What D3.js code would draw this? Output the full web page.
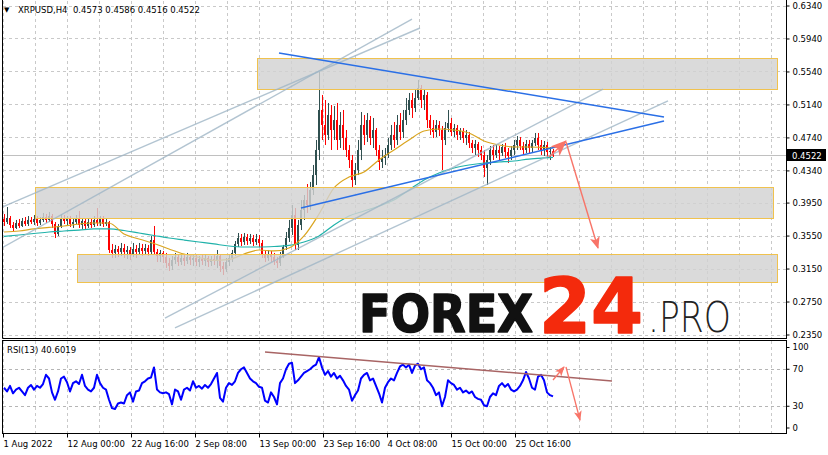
<!DOCTYPE html>
<html><head><meta charset="utf-8">
<script src="https://cdnjs.cloudflare.com/ajax/libs/d3/7.8.5/d3.min.js"></script>
<style>
body{margin:0;background:#fff}
svg{display:block}
text{font-family:"DejaVu Sans",Verdana,sans-serif}
</style></head>
<body><svg id="c" width="828" height="455"></svg>
<script>
// ---------------- DATA ----------------
const symbolTitle = "XRPUSD,H4";
const headerOHLC = [0.4573, 0.4586, 0.4516, 0.4522];
const lastPrice = 0.4522;
const rsiPeriod = 13;
const rsiLast = 40.6019;
const axisStart = "2022-08-01T08:00:00Z";
const axisEnd = "2022-12-10T00:00:00Z";
const candleStart = "2022-08-01T12:00:00Z";
const candleHours = 12;

const open = [.3751,.3714,.3763,.3678,.3642,.3702,.3666,.3727,.3690,.3739,
.3714,.3751,.3702,.3739,.3775,.3739,.3787,.3690,.3569,.3666,
.3763,.3727,.3751,.3690,.3714,.3751,.3678,.3727,.3666,.3714,
.3678,.3739,.3702,.3751,.3690,.3714,.3375,.3339,.3387,.3351,
.3399,.3351,.3375,.3326,.3387,.3351,.3399,.3363,.3399,.3351,
.3496,.3351,.3302,.3339,.3290,.3217,.3181,.3254,.3290,.3229,
.3278,.3242,.3290,.3254,.3278,.3229,.3266,.3242,.3278,.3229,
.3266,.3242,.3302,.3181,.3144,.3229,.3278,.3339,.3448,.3520,
.3472,.3533,.3484,.3520,.3472,.3508,.3460,.3314,.3278,.3326,
.3290,.3242,.3217,.3302,.3411,.3520,.3642,.3799,.3436,.3678,
.3860,.3981,.3921,.4103,.4284,.4588,.5073,.4891,.4770,.5012,
.4830,.4951,.4709,.4891,.4733,.4588,.4466,.4224,.4345,.4588,
.4891,.4770,.4951,.4733,.4830,.4588,.4442,.4491,.4527,.4648,
.4770,.4709,.4891,.4806,.4951,.5073,.5194,.5097,.5218,.5339,
.5194,.5255,.4951,.4854,.4806,.4891,.4830,.4709,.4854,.4915,
.4806,.4854,.4770,.4818,.4733,.4770,.4673,.4612,.4660,.4588,
.4527,.4369,.4466,.4588,.4527,.4588,.4551,.4624,.4563,.4515,
.4588,.4648,.4709,.4636,.4588,.4660,.4612,.4673,.4733,.4648,
.4588,.4648,.4563,.4573];
const high = [.3811,.3896,.3787,.3714,.3739,.3751,.3763,.3775,.3787,.3775,
.3799,.3787,.3775,.3824,.3811,.3836,.3811,.3714,.3690,.3811,
.3799,.3787,.3787,.3751,.3799,.3848,.3763,.3763,.3751,.3763,
.3787,.3884,.3787,.3787,.3763,.3727,.3448,.3436,.3423,.3460,
.3448,.3423,.3411,.3460,.3436,.3460,.3448,.3448,.3436,.3545,
.3666,.3387,.3375,.3363,.3339,.3278,.3302,.3339,.3326,.3326,
.3314,.3339,.3326,.3314,.3314,.3302,.3314,.3314,.3302,.3302,
.3314,.3375,.3326,.3229,.3278,.3314,.3375,.3484,.3581,.3569,
.3581,.3569,.3569,.3557,.3569,.3557,.3496,.3363,.3375,.3363,
.3339,.3290,.3351,.3436,.3593,.3739,.3921,.3884,.3739,.3981,
.4042,.4175,.4200,.4406,.4709,.5534,.5255,.5194,.5158,.5133,
.5121,.5158,.5048,.5073,.4830,.4648,.4527,.4430,.4709,.5048,
.5012,.5036,.5000,.4976,.4854,.4648,.4588,.4612,.4733,.4891,
.4927,.5012,.5036,.5073,.5218,.5279,.5279,.5315,.5437,.5376,
.5315,.5291,.5012,.4951,.4951,.4939,.4879,.4927,.5073,.4976,
.4903,.4891,.4854,.4854,.4830,.4806,.4709,.4709,.4685,.4636,
.4588,.4527,.4636,.4648,.4648,.4636,.4660,.4673,.4612,.4636,
.4709,.4757,.4745,.4685,.4709,.4709,.4709,.4794,.4794,.4709,
.4697,.4685,.4624,.4600];
const low = [.3666,.3690,.3642,.3605,.3630,.3642,.3654,.3666,.3666,.3690,
.3678,.3666,.3678,.3714,.3702,.3714,.3642,.3520,.3545,.3642,
.3690,.3678,.3654,.3642,.3690,.3642,.3630,.3630,.3642,.3642,
.3654,.3666,.3666,.3654,.3666,.3339,.3278,.3278,.3290,.3302,
.3278,.3266,.3254,.3290,.3278,.3314,.3302,.3326,.3302,.3314,
.3314,.3229,.3229,.3217,.3157,.3120,.3132,.3205,.3181,.3193,
.3181,.3205,.3193,.3181,.3181,.3169,.3193,.3181,.3169,.3181,
.3193,.3157,.3108,.3072,.3108,.3181,.3229,.3302,.3411,.3423,
.3436,.3436,.3448,.3423,.3436,.3411,.3278,.3229,.3242,.3229,
.3193,.3157,.3181,.3278,.3375,.3472,.3557,.3375,.3375,.3617,
.3739,.3824,.3860,.4042,.4163,.4466,.4709,.4648,.4709,.4588,
.4709,.4588,.4612,.4588,.4503,.4369,.4139,.4163,.4284,.4466,
.4648,.4685,.4648,.4612,.4515,.4345,.4369,.4406,.4491,.4588,
.4612,.4648,.4709,.4733,.4891,.5012,.4976,.5048,.5194,.5097,
.5073,.4854,.4770,.4733,.4745,.4757,.4345,.4648,.4806,.4757,
.4745,.4709,.4709,.4673,.4648,.4612,.4551,.4527,.4503,.4466,
.4260,.4163,.4406,.4466,.4491,.4466,.4515,.4491,.4430,.4466,
.4527,.4588,.4588,.4527,.4551,.4551,.4563,.4636,.4588,.4527,
.4515,.4503,.4466,.4503];
const close = [.3714,.3763,.3678,.3642,.3702,.3666,.3727,.3690,.3739,.3714,
.3751,.3702,.3739,.3775,.3739,.3787,.3690,.3569,.3666,.3763,
.3727,.3751,.3690,.3714,.3751,.3678,.3727,.3666,.3714,.3678,
.3739,.3702,.3751,.3690,.3714,.3375,.3339,.3387,.3351,.3399,
.3351,.3375,.3326,.3387,.3351,.3399,.3363,.3399,.3351,.3496,
.3351,.3302,.3339,.3290,.3217,.3181,.3254,.3290,.3229,.3278,
.3242,.3290,.3254,.3278,.3229,.3266,.3242,.3278,.3229,.3266,
.3242,.3302,.3181,.3144,.3229,.3278,.3339,.3448,.3520,.3472,
.3533,.3484,.3520,.3472,.3508,.3460,.3314,.3278,.3326,.3290,
.3242,.3217,.3302,.3411,.3520,.3642,.3799,.3436,.3678,.3860,
.3981,.3921,.4103,.4284,.4588,.5073,.4891,.4770,.5012,.4830,
.4951,.4709,.4891,.4733,.4588,.4466,.4224,.4345,.4588,.4891,
.4770,.4951,.4733,.4830,.4588,.4442,.4491,.4527,.4648,.4770,
.4709,.4891,.4806,.4951,.5073,.5194,.5097,.5218,.5339,.5194,
.5255,.4951,.4854,.4806,.4891,.4830,.4709,.4854,.4915,.4806,
.4854,.4770,.4818,.4733,.4770,.4673,.4612,.4660,.4588,.4527,
.4369,.4466,.4588,.4527,.4588,.4551,.4624,.4563,.4515,.4588,
.4648,.4709,.4636,.4588,.4660,.4612,.4673,.4733,.4648,.4588,
.4648,.4563,.4576,.4522];

const rsiValues = [50,46,52,44,48,50,46,42,50,53,
48,52,50,54,64,60,45,37,46,60,
62,56,46,55,57,54,64,52,48,46,
50,64,55,50,48,37,28,27,33,34,
33,42,45,35,46,47,55,57,60,61,
72,48,45,44,45,43,32,48,46,37,
48,50,47,57,50,52,49,53,50,54,
60,66,39,35,50,55,53,57,66,70,
72,66,60,57,55,51,50,36,34,45,
40,32,55,60,70,76,77,55,58,62,
66,68,70,73,75,83,72,64,68,62,
66,60,63,58,52,48,36,42,47,60,
64,66,58,60,52,44,34,50,56,60,
58,66,73,75,72,75,66,74,76,70,
72,58,55,50,42,45,30,40,58,55,
53,48,50,45,47,44,46,40,38,37,
31,30,40,44,42,52,55,51,54,48,
46,48,52,58,67,60,50,48,62,64,
58,45,42,40.6];

const maIndex = [0,5,10,15,20,25,30,35,40,45,50,55,60,65,70,75,80,85,90,95,100,105,110,115,120,125,130,135,140,145,150,155,160,165,170,175,180,183];
const maFast = [.3593,.3605,.3630,.3648,.3666,.3690,.3702,.3702,.3569,.3508,
.3454,.3387,.3326,.3284,.3248,.3260,.3326,.3375,.3363,.3399,
.3545,.3811,.4127,.4260,.4321,.4466,.4588,.4709,.4818,.4842,
.4830,.4794,.4697,.4648,.4624,.4624,.4618,.4612];
const maSlow = [.3539,.3557,.3575,.3593,.3605,.3617,.3630,.3630,.3611,.3581,
.3551,.3520,.3496,.3472,.3448,.3423,.3411,.3411,.3417,.3430,
.3472,.3545,.3678,.3787,.3848,.3908,.3981,.4103,.4224,.4309,
.4369,.4406,.4430,.4442,.4454,.4478,.4491,.4497];

const priceTicks = [0.6340,0.5940,0.5540,0.5140,0.4740,0.4340,0.3950,0.3550,0.3150,0.2750,0.2350];
const rsiTicks = [100,70,30,0];
const rsiLevels = [70,30];
const timeTicks = ["2022-08-01T08:00:00Z","2022-08-12T00:00:00Z","2022-08-22T16:00:00Z","2022-09-02T08:00:00Z","2022-09-13T00:00:00Z","2022-09-23T16:00:00Z","2022-10-04T08:00:00Z","2022-10-15T00:00:00Z","2022-10-25T16:00:00Z"];
const timeTickLabels = ["1 Aug 2022","12 Aug 00:00","22 Aug 16:00","2 Sep 08:00","13 Sep 00:00","23 Sep 16:00","4 Oct 08:00","15 Oct 00:00","25 Oct 16:00"];

// drawn objects (time, price)
const zoneStart = ["2022-09-12T16:00:00Z","2022-08-06T16:00:00Z","2022-08-13T16:00:00Z"];
const zoneEnd = ["2022-12-08T08:00:00Z","2022-12-07T16:00:00Z","2022-12-08T08:00:00Z"];
const zoneTop = [0.5703,0.4139,0.3326];
const zoneBottom = [0.5327,0.3763,0.2987];

const blueLines = [
  [["2022-09-16T08:00:00Z",0.5764],["2022-11-19T12:00:00Z",0.4988]],
  [["2022-09-20T00:00:00Z",0.3884],["2022-11-19T12:00:00Z",0.4939]]
];
const channelLines = [
  [["2022-07-31T20:00:00Z",0.3387],["2022-10-08T12:00:00Z",0.6176]],
  [["2022-07-31T20:00:00Z",0.3884],["2022-10-09T20:00:00Z",0.6067]],
  [["2022-08-28T08:00:00Z",0.2550],["2022-11-09T08:00:00Z",0.5327]],
  [["2022-08-30T00:00:00Z",0.2429],["2022-11-20T04:00:00Z",0.5182]]
];
const priceArrows = [
  [["2022-10-31T08:00:00Z",0.4503],["2022-11-03T04:00:00Z",0.4697]],
  [["2022-11-03T04:00:00Z",0.4685],["2022-11-08T12:00:00Z",0.3399]]
];
const rsiTrend = [["2022-09-14T00:00:00Z",88.6],["2022-11-10T20:00:00Z",57.3]];
const rsiArrows = [
  [["2022-11-01T00:00:00Z",58.4],["2022-11-02T20:00:00Z",72.4]],
  [["2022-11-03T04:00:00Z",72.4],["2022-11-05T12:00:00Z",15.1]]
];

// ---------------- DRAW ----------------
const svg = d3.select("#c");
const T = s => new Date(s);
const x = d3.scaleUtc().domain([T(axisStart), T(axisEnd)]).range([3, 787]);
const y = d3.scaleLinear().domain([0.2350, 0.6340]).range([334.5, 5.5]);
const yr = d3.scaleLinear().domain([0, 100]).range([434, 341.5]);

const candleTime = i => new Date(T(candleStart).getTime() + i * candleHours * 3600e3);
const candles = close.map((c, i) => ({t: candleTime(i), o: open[i], h: high[i], l: low[i], c}));

const gridColor = "#c9c9c9";
const bull = "#2f4f4f", bear = "#ff0000";
const arrowColor = "#f87468";

const defs = svg.append("defs");
defs.append("clipPath").attr("id", "clipMain").append("rect").attr("x", 3).attr("y", 1).attr("width", 784).attr("height", 337);
defs.append("clipPath").attr("id", "clipRsi").append("rect").attr("x", 3).attr("y", 341).attr("width", 784).attr("height", 93);
function marker(id, w, h) {
  defs.append("marker").attr("id", id).attr("viewBox", `0 0 ${w} ${h}`)
    .attr("refX", w - 1).attr("refY", h / 2).attr("markerWidth", w).attr("markerHeight", h)
    .attr("markerUnits", "userSpaceOnUse").attr("orient", "auto")
    .append("path").attr("d", `M0,0 L${w},${h/2} L0,${h} L${w*0.25},${h/2} Z`).attr("fill", arrowColor);
}
marker("ahBig", 16, 13);
marker("ahMid", 12, 10);
marker("ahSmall", 10, 8);

// grid
const gridTimes = d3.range(0, 25).map(k => new Date(T(axisStart).getTime() + k * 128 * 3600e3));
const main = svg.append("g").attr("clip-path", "url(#clipMain)");
main.selectAll("line.vg").data(gridTimes).join("line")
  .attr("x1", d => Math.round(x(d)) + 0.5).attr("x2", d => Math.round(x(d)) + 0.5)
  .attr("y1", 1).attr("y2", 338).attr("stroke", gridColor).attr("stroke-dasharray", "3,3");
main.selectAll("line.hg").data(priceTicks).join("line")
  .attr("x1", 3).attr("x2", 787).attr("y1", d => Math.round(y(d)) + 0.5).attr("y2", d => Math.round(y(d)) + 0.5)
  .attr("stroke", gridColor).attr("stroke-dasharray", "3,3");

// current price line
main.append("line").attr("x1", 3).attr("x2", 787)
  .attr("y1", Math.round(y(lastPrice)) + 0.5).attr("y2", Math.round(y(lastPrice)) + 0.5)
  .attr("stroke", "#c0c0c0");

// candles
const cg = main.append("g");
candles.forEach(d => {
  const cx = Math.round(x(d.t));
  const col = d.c >= d.o ? bull : bear;
  cg.append("rect").attr("x", cx).attr("width", 1)
    .attr("y", y(d.h)).attr("height", Math.max(1, y(d.l) - y(d.h))).attr("fill", col);
  const top = y(Math.max(d.o, d.c)), bot = y(Math.min(d.o, d.c));
  cg.append("rect").attr("x", cx - 1).attr("width", 2)
    .attr("y", top).attr("height", Math.max(1, bot - top)).attr("fill", col);
});

// moving averages
const maLine = d3.line().x(d => x(candleTime(d[0]))).y(d => y(d[1])).curve(d3.curveMonotoneX);
main.append("path").attr("d", maLine(maIndex.map((k, i) => [k, maSlow[i]])))
  .attr("fill", "none").attr("stroke", "#20b2aa").attr("stroke-width", 1.2);
main.append("path").attr("d", maLine(maIndex.map((k, i) => [k, maFast[i]])))
  .attr("fill", "none").attr("stroke", "#daa520").attr("stroke-width", 1.2);

// zones
zoneTop.forEach((zt, i) => {
  const x0 = Math.round(x(T(zoneStart[i]))) + 0.5, x1 = Math.round(x(T(zoneEnd[i]))) + 0.5;
  const y0 = Math.round(y(zt)) + 0.5, y1 = Math.round(y(zoneBottom[i])) + 0.5;
  main.append("rect").attr("x", x0).attr("y", y0).attr("width", x1 - x0).attr("height", y1 - y0)
    .attr("fill", "#d2d2d2").attr("fill-opacity", 0.82)
    .attr("stroke", "#f0c24e").attr("stroke-width", 1);
});

// channel lines
const pl = d3.line().x(d => x(T(d[0]))).y(d => y(d[1]));
channelLines.forEach(l => main.append("path").attr("d", pl(l))
  .attr("stroke", "#9fb5c6").attr("stroke-opacity", 0.8).attr("stroke-width", 1.4).attr("fill", "none"));
blueLines.forEach(l => main.append("path").attr("d", pl(l))
  .attr("stroke", "#2a6fe6").attr("stroke-width", 1.5).attr("fill", "none"));
priceArrows.forEach((l, i) => main.append("path").attr("d", pl(l))
  .attr("stroke", arrowColor).attr("stroke-width", 1.4).attr("fill", "none")
  .attr("marker-end", i === 0 ? "url(#ahBig)" : "url(#ahMid)"));

// main frame
svg.append("line").attr("x1", 2.5).attr("x2", 2.5).attr("y1", 0).attr("y2", 338.5).attr("stroke", "#000");
svg.append("line").attr("x1", 2.5).attr("x2", 787).attr("y1", 338.5).attr("y2", 338.5).attr("stroke", "#000");
svg.append("line").attr("x1", 786.5).attr("x2", 786.5).attr("y1", 0).attr("y2", 338.5).attr("stroke", "#000");

// right price axis
const ay = svg.append("g").attr("transform", "translate(786.5,0)")
  .call(d3.axisRight(y).tickValues(priceTicks).tickSize(3).tickFormat(d3.format(".4f")));
ay.select(".domain").remove();
ay.selectAll("text").attr("font-size", "8.5px").attr("font-family", "DejaVu Sans").attr("x", 6).attr("fill", "#000");
ay.selectAll("line").attr("stroke", "#000");

// current price label
const ly = Math.round(y(lastPrice));
svg.append("rect").attr("x", 787).attr("y", ly - 6).attr("width", 39).attr("height", 12).attr("fill", "#000");
svg.append("text").attr("x", 792).attr("y", ly + 3.5).attr("fill", "#fff").attr("font-size", "8.5px").text(d3.format(".4f")(lastPrice));

// title
svg.append("text").attr("x", 4).attr("y", 12).attr("font-size", "7px").attr("fill", "#000").text("▼");
svg.append("text").attr("x", 18).attr("y", 12.5).attr("font-size", "8.5px").attr("fill", "#000")
  .attr("xml:space", "preserve")
  .text(symbolTitle + "  " + headerOHLC.map(d3.format(".4f")).join(" "));

// ---------------- RSI PANEL ----------------
const rsi = svg.append("g").attr("clip-path", "url(#clipRsi)");
rsi.selectAll("line.vg").data(gridTimes).join("line")
  .attr("x1", d => Math.round(x(d)) + 0.5).attr("x2", d => Math.round(x(d)) + 0.5)
  .attr("y1", 341).attr("y2", 434).attr("stroke", gridColor).attr("stroke-dasharray", "3,3");
rsi.selectAll("line.lv").data(rsiLevels).join("line")
  .attr("x1", 3).attr("x2", 787).attr("y1", d => Math.round(yr(d)) + 0.5).attr("y2", d => Math.round(yr(d)) + 0.5)
  .attr("stroke", "#b5b5b5").attr("stroke-dasharray", "3,3");
rsi.append("path").attr("d", d3.line().x((d, i) => x(candleTime(i))).y(d => yr(d))(rsiValues))
  .attr("fill", "none").attr("stroke", "#0000ff").attr("stroke-width", 2).attr("stroke-linejoin", "round");
rsi.append("path").attr("d", d3.line().x(d => x(T(d[0]))).y(d => yr(d[1]))(rsiTrend))
  .attr("fill", "none").attr("stroke", "#a86464").attr("stroke-width", 1.5);
rsiArrows.forEach(l => rsi.append("path").attr("d", d3.line().x(d => x(T(d[0]))).y(d => yr(d[1]))(l))
  .attr("stroke", arrowColor).attr("stroke-width", 1.3).attr("fill", "none").attr("marker-end", "url(#ahSmall)"));

svg.append("rect").attr("x", 2.5).attr("y", 340.5).attr("width", 784).attr("height", 93)
  .attr("fill", "none").attr("stroke", "#000");

svg.append("text").attr("x", 7).attr("y", 353).attr("font-size", "8.5px").attr("fill", "#000")
  .text(`RSI(${rsiPeriod}) ${rsiLast.toFixed(4)}`);

const ar = svg.append("g").attr("transform", "translate(786.5,0)")
  .call(d3.axisRight(yr).tickValues(rsiTicks).tickSize(3).tickFormat(d3.format("d")));
ar.select(".domain").remove();
ar.selectAll("g.tick").attr("transform", d => `translate(0,${yr(d) + (d === 100 ? 6 : d === 0 ? -6 : 0)})`);
ar.selectAll("text").attr("font-size", "8.5px").attr("font-family", "DejaVu Sans").attr("x", 6).attr("fill", "#000");
ar.selectAll("line").attr("stroke", "#000");

// bottom time axis
const ax = svg.append("g").attr("transform", "translate(0,433.5)")
  .call(d3.axisBottom(x).tickValues(timeTicks.map(T)).tickSize(4).tickFormat((d, i) => timeTickLabels[i]));
ax.select(".domain").remove();
ax.selectAll("text").attr("font-size", "8.5px").attr("font-family", "DejaVu Sans")
  .attr("text-anchor", "start").attr("x", 0).attr("fill", "#000");
ax.selectAll("line").attr("stroke", "#000");

// ---------------- WATERMARK ----------------
const wm = svg.append("g");
wm.append("text").attr("x", 359).attr("y", 332).attr("font-family", "Roboto, Inter, Lato, sans-serif")
  .attr("font-weight", 900).attr("font-size", "52px").attr("fill", "#111")
  .attr("stroke", "#111").attr("stroke-width", 1.6).attr("stroke-linejoin", "round")
  .attr("textLength", 174).attr("lengthAdjust", "spacingAndGlyphs").text("FOREX");
wm.append("text").attr("x", 539).attr("y", 333).attr("font-family", "Roboto, Inter, Lato, sans-serif")
  .attr("font-weight", 900).attr("font-size", "76px").attr("fill", "#f42a0c")
  .attr("stroke", "#f42a0c").attr("stroke-width", 1.6).attr("stroke-linejoin", "round")
  .attr("textLength", 104).attr("lengthAdjust", "spacingAndGlyphs").text("24");
wm.append("text").attr("x", 648).attr("y", 332).attr("font-family", "Roboto, Inter, Lato, sans-serif")
  .attr("font-weight", 300).attr("font-size", "42px").attr("fill", "#222")
  .attr("textLength", 83).attr("lengthAdjust", "spacingAndGlyphs").text(".PRO");
</script>
</body></html>
